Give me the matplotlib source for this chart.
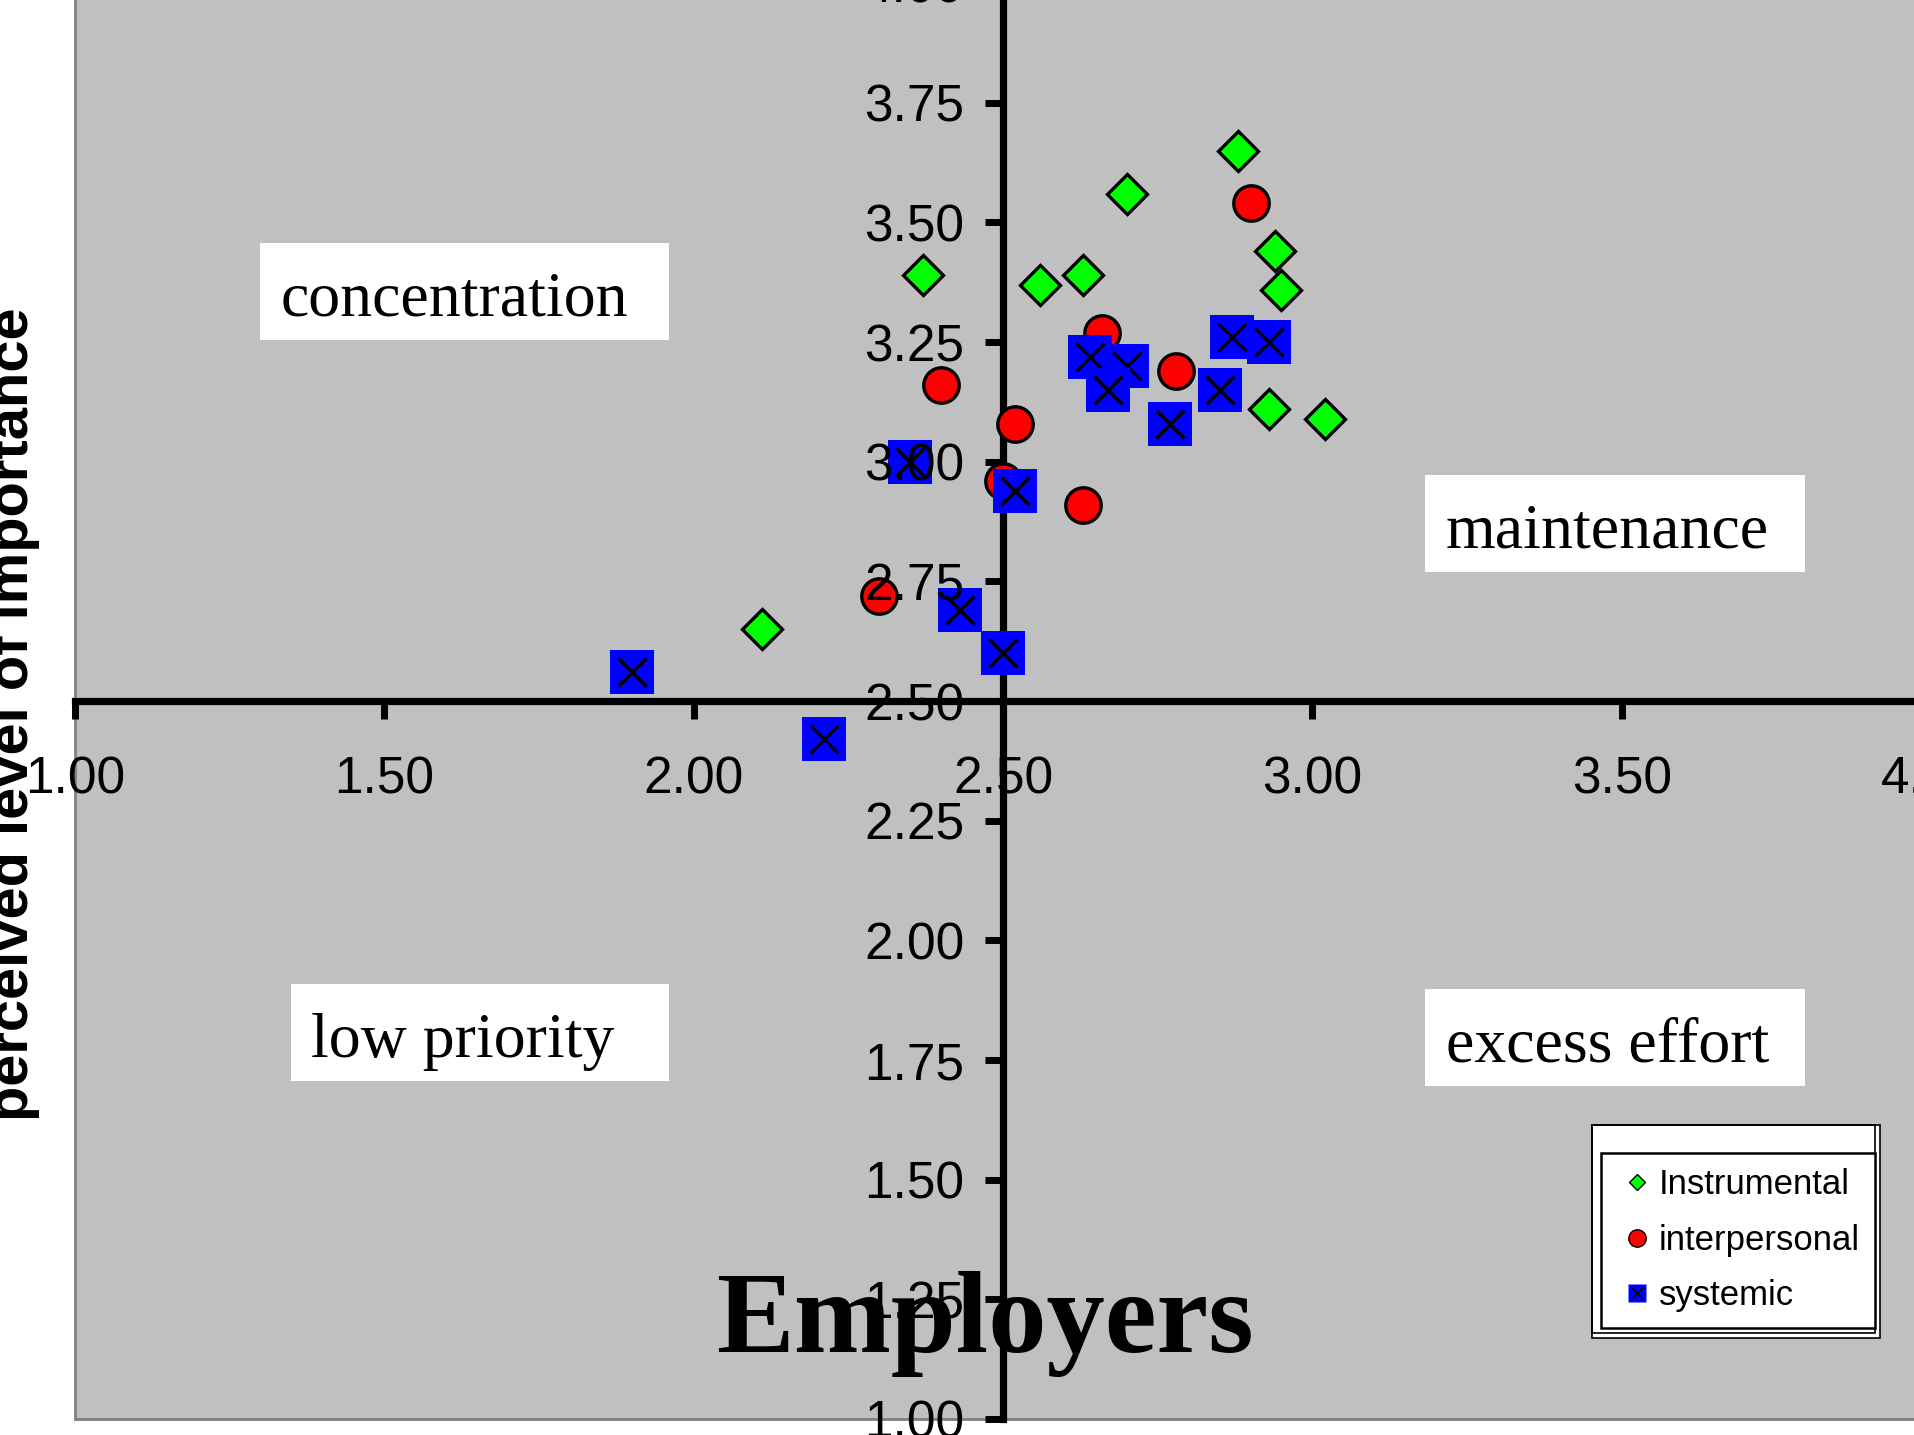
import matplotlib
matplotlib.use("Agg")
import matplotlib.pyplot as plt
from matplotlib.lines import Line2D
from matplotlib.patches import Rectangle
from matplotlib.legend_handler import HandlerTuple
from matplotlib.ticker import FormatStrFormatter, MultipleLocator

# ---- data -------------------------------------------------------------
series_names = ["Instrumental", "interpersonal", "systemic"]

instrumental_x = [2.88, 2.70, 2.37, 2.56, 2.63, 2.94, 2.95, 2.93, 3.02, 2.11]
instrumental_y = [3.65, 3.56, 3.39, 3.37, 3.39, 3.44, 3.36, 3.11, 3.09, 2.65]

interpersonal_x = [2.90, 2.66, 2.78, 2.40, 2.52, 2.50, 2.63, 2.30]
interpersonal_y = [3.54, 3.27, 3.19, 3.16, 3.08, 2.96, 2.91, 2.72]

systemic_x = [2.87, 2.93, 2.70, 2.64, 2.67, 2.85, 2.77, 2.35, 2.52, 2.43, 2.50, 1.90, 2.21]
systemic_y = [3.26, 3.25, 3.20, 3.22, 3.15, 3.15, 3.08, 3.00, 2.94, 2.69, 2.60, 2.56, 2.42]

quadrant_labels = ["concentration", "maintenance", "low priority", "excess effort"]
chart_title = "Employers"
y_title = "perceived level of importance"

# ---- figure geometry (pixels, measured from the top-left corner) --------
W, H, DPI = 1915, 1435, 100
X_LEFT, PX_PER_X = 75.0, 618.7      # x = 1.00 sits at X_LEFT
Y_BOTTOM, PX_PER_Y = 1419.0, 478.6  # y = 1.00 sits at Y_BOTTOM


def fxy(px, py):
    """Pixel position (top-left origin) -> figure fraction."""
    return px / W, 1.0 - py / H


plt.rcParams["font.family"] = ["Liberation Sans", "DejaVu Sans"]

fig = plt.figure(figsize=(W / DPI, H / DPI), dpi=DPI, facecolor="white")
ax = fig.add_axes([X_LEFT / W, (H - Y_BOTTOM) / H,
                   3 * PX_PER_X / W, 3 * PX_PER_Y / H])
ax.set_xlim(1.0, 4.0)
ax.set_ylim(1.0, 4.0)

# plot area: silver fill with a grey border
ax.patch.set_facecolor("#C0C0C0")
ax.patch.set_edgecolor("#808080")
ax.patch.set_linewidth(2.0)

# axes cross at (2.5, 2.5)
for side in ("top", "right"):
    ax.spines[side].set_visible(False)
for side in ("left", "bottom"):
    sp = ax.spines[side]
    sp.set_position(("data", 2.5))
    sp.set_linewidth(5.2)
    sp.set_color("black")
    sp.set_zorder(1.5)

ax.xaxis.set_major_locator(MultipleLocator(0.5))
ax.yaxis.set_major_locator(MultipleLocator(0.25))
ax.xaxis.set_major_formatter(FormatStrFormatter("%.2f"))
ax.yaxis.set_major_formatter(FormatStrFormatter("%.2f"))
ax.tick_params(axis="both", direction="out", length=13, width=5,
               color="black", labelsize=37, labelcolor="black")
ax.tick_params(axis="x", pad=26)
ax.tick_params(axis="y", pad=15)
ax.xaxis.set_zorder(10)
ax.yaxis.set_zorder(10)

# ---- markers ----------------------------------------------------------
ax.plot(instrumental_x, instrumental_y, ls="none", marker="D", ms=20.5,
        mfc="#00FF00", mec="black", mew=2.4, zorder=3)
ax.plot(interpersonal_x, interpersonal_y, ls="none", marker="o", ms=25.5,
        mfc="#FF0000", mec="black", mew=2.4, zorder=4)
for i, (x, y) in enumerate(zip(systemic_x, systemic_y)):
    z = 5 + i * 0.02
    ax.plot([x], [y], ls="none", marker="s", ms=31.7, mfc="#0000FF",
            mec="none", mew=0, zorder=z)
    ax.plot([x], [y], ls="none", marker="x", ms=19.5, mec="black",
            mew=2.4, zorder=z + 0.01)

# ---- quadrant captions in white boxes ---------------------------------
quadrant_boxes = [(260, 243, 669, 340), (1425, 475, 1805, 572),
                  (291, 984, 669, 1081), (1425, 989, 1805, 1086)]
quadrant_text_pos = [(281, 316), (1446, 548), (311, 1057), (1446, 1062)]
for label, (x0, y0, x1, y1), (tx, ty) in zip(quadrant_labels, quadrant_boxes,
                                             quadrant_text_pos):
    ax.add_patch(Rectangle(fxy(x0, y1), (x1 - x0) / W, (y1 - y0) / H,
                           transform=fig.transFigure, facecolor="white",
                           edgecolor="none", zorder=1, clip_on=False))
    ax.text(*fxy(tx, ty), label, transform=fig.transFigure,
            family=["Liberation Serif", "DejaVu Serif"], fontsize=46,
            ha="left", va="baseline", zorder=1.1)

# ---- big title across the lower half ----------------------------------
ax.text(*fxy(985, 1352), chart_title, transform=fig.transFigure,
        family=["Liberation Serif", "DejaVu Serif"], fontweight="bold",
        fontsize=84, ha="center", va="baseline", zorder=1)

# ---- vertical axis title (runs off the left edge) ---------------------
fig.text(*fxy(28, 1121), y_title, rotation=90, rotation_mode="anchor",
         ha="left", va="baseline", fontsize=41.7, fontweight="bold",
         color="black")

# ---- legend -----------------------------------------------------------
ax.add_patch(Rectangle(fxy(1591.7, 1338), (1880 - 1591.7) / W,
                       (1338 - 1125) / H, transform=fig.transFigure,
                       facecolor="white", edgecolor="black", linewidth=1.2,
                       zorder=18, clip_on=False))
ax.add_patch(Rectangle(fxy(1591.7, 1333), (1875 - 1591.7) / W,
                       (1333 - 1125) / H, transform=fig.transFigure,
                       facecolor="none", edgecolor="black", linewidth=1.2,
                       zorder=18.5, clip_on=False))

h_instr = Line2D([], [], ls="none", marker="D", ms=8.2, mfc="#00FF00",
                 mec="black", mew=1)
h_inter = Line2D([], [], ls="none", marker="o", ms=12.5, mfc="#FF0000",
                 mec="black", mew=1)
h_sys = (Line2D([], [], ls="none", marker="s", ms=13, mfc="#0000FF",
                mec="none"),
         Line2D([], [], ls="none", marker="x", ms=9, mec="black", mew=1))
leg = ax.legend([h_instr, h_inter, h_sys], series_names,
                handler_map={tuple: HandlerTuple(ndivide=1, pad=0)},
                loc="upper left", bbox_to_anchor=fxy(1600.7, 1152.7),
                bbox_transform=fig.transFigure, borderaxespad=0,
                frameon=True, fancybox=False, edgecolor="black",
                facecolor="white", framealpha=1,
                prop={"family": "Liberation Sans", "size": 25},
                handlelength=1.2, handletextpad=0.02, labelspacing=0.65,
                borderpad=0.45)
leg.get_frame().set_linewidth(1.8)
leg.set_zorder(20)

fig.savefig("out.png", dpi=DPI, facecolor="white")
